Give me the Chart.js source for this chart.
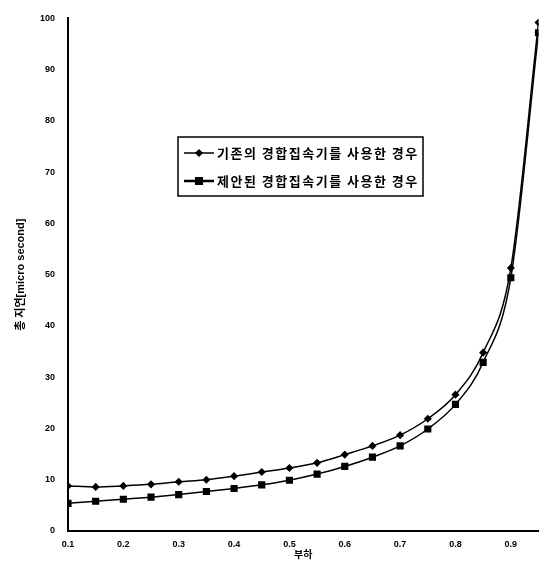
<!DOCTYPE html>
<html lang="ko">
<head>
<meta charset="utf-8">
<script src="https://cdn.jsdelivr.net/npm/chart.js@4.4.1/dist/chart.umd.min.js"></script>
<style>
    html, body { margin: 0; padding: 0; background: #fff; }
    #wrap { width: 544px; height: 562px; position: relative; }
</style>
</head>
<body>
<div id="wrap"><canvas id="graficoAtraso"></canvas></div>
<script>
// valores
const cargas = [0.1, 0.15, 0.2, 0.25, 0.3, 0.35, 0.4, 0.45, 0.5, 0.55, 0.6, 0.65, 0.7, 0.75, 0.8, 0.85, 0.9, 0.95];
const atrasoExistente = [8.8, 8.6, 8.8, 9.1, 9.6, 10.0, 10.7, 11.5, 12.3, 13.3, 14.9, 16.6, 18.7, 21.9, 26.6, 34.8, 51.3, 99.2];
const atrasoProposto = [5.4, 5.8, 6.2, 6.6, 7.1, 7.7, 8.3, 9.0, 9.9, 11.1, 12.6, 14.4, 16.6, 19.9, 24.7, 32.9, 49.4, 97.2];
const nomesSeries = ['기존의 경합집속기를 사용한 경우', '제안된 경합집속기를 사용한 경우'];
const ticksX = [0.1, 0.2, 0.3, 0.4, 0.5, 0.6, 0.7, 0.8, 0.9];
const tituloX = '부하';
const tituloY = '총 지연[micro second]';

const fonteEixo = '"Liberation Sans", Arial, "Noto Sans CJK KR", sans-serif';

function pontos(valores) {
    return cargas.map((c, i) => ({ x: c, y: valores[i] }));
}

// legenda desenhada dentro da área do gráfico
const legendaCaixa = {
    id: 'legendaCaixa',
    afterDraw(chart, args, opts) {
        const ctx = chart.ctx;
        ctx.save();
        ctx.strokeStyle = '#000';
        ctx.lineWidth = 1.5;
        ctx.strokeRect(opts.x, opts.y, opts.w, opts.h);
        ctx.font = 'bold 13px "Noto Sans CJK KR", sans-serif';
        ctx.letterSpacing = '1.5px';
        ctx.fillStyle = '#000';
        ctx.textBaseline = 'middle';
        chart.data.datasets.forEach((ds, i) => {
            const y = opts.y + opts.primeiraLinha + i * opts.espaco;
            const x0 = opts.x + 6;
            const x1 = opts.x + 36;
            ctx.beginPath();
            ctx.lineWidth = i === 0 ? 1.5 : 2.5;
            ctx.moveTo(x0, y);
            ctx.lineTo(x1, y);
            ctx.stroke();
            Chart.helpers.drawPoint(ctx, {
                pointStyle: ds.pointStyle,
                radius: ds.pointRadius,
                rotation: 0,
                borderWidth: 1
            }, (x0 + x1) / 2, y);
            ctx.fillText(ds.label, x1 + 3, y);
        });
        ctx.restore();
    }
};

new Chart(document.getElementById('graficoAtraso'), {
    type: 'line',
    data: {
        datasets: [{
            label: nomesSeries[0],
            data: pontos(atrasoExistente),
            borderColor: '#000',
            backgroundColor: '#000',
            borderWidth: 1.5,
            pointStyle: 'rectRot',
            pointRadius: 3,
            cubicInterpolationMode: 'monotone'
        }, {
            label: nomesSeries[1],
            data: pontos(atrasoProposto),
            borderColor: '#000',
            backgroundColor: '#000',
            borderWidth: 1.5,
            pointStyle: 'rect',
            pointRadius: 4,
            cubicInterpolationMode: 'monotone'
        }]
    },
    options: {
        responsive: true,
        maintainAspectRatio: false,
        animation: false,
        layout: { padding: { top: 16, right: 2, left: 0, bottom: 0 } },
        plugins: {
            legend: { display: false },
            tooltip: { enabled: false },
            legendaCaixa: { x: 178, y: 137, w: 245, h: 59, primeiraLinha: 16, espaco: 28 }
        },
        scales: {
            x: {
                type: 'linear',
                min: 0.1,
                max: 0.95,
                afterBuildTicks: (scale) => { scale.ticks = ticksX.map(v => ({ value: v })); },
                afterFit: (scale) => { scale.height = 31; },
                grid: { drawOnChartArea: false, drawTicks: false },
                border: { color: '#000', width: 2 },
                ticks: {
                    color: '#000',
                    padding: 8,
                    maxRotation: 0,
                    autoSkip: false,
                    font: { family: fonteEixo, size: 9, weight: 'bold' },
                    callback: (v) => Number(v).toFixed(1)
                },
                title: {
                    display: true,
                    text: tituloX,
                    color: '#000',
                    padding: { top: 0, bottom: 2 },
                    font: { family: '"Noto Sans CJK KR", sans-serif', size: 10, weight: 'bold' }
                }
            },
            y: {
                min: 0,
                max: 100,
                afterFit: (scale) => { scale.width = 68; },
                grid: { drawOnChartArea: false, drawTicks: false },
                border: { color: '#000', width: 2 },
                ticks: {
                    stepSize: 10,
                    color: '#000',
                    padding: 13,
                    font: { family: fonteEixo, size: 9, weight: 'bold' }
                },
                title: {
                    display: true,
                    text: tituloY,
                    color: '#000',
                    padding: { top: 14, bottom: 0 },
                    font: { family: fonteEixo, size: 11, weight: 'bold' }
                }
            }
        }
    },
    plugins: [legendaCaixa]
});
</script>
</body>
</html>
